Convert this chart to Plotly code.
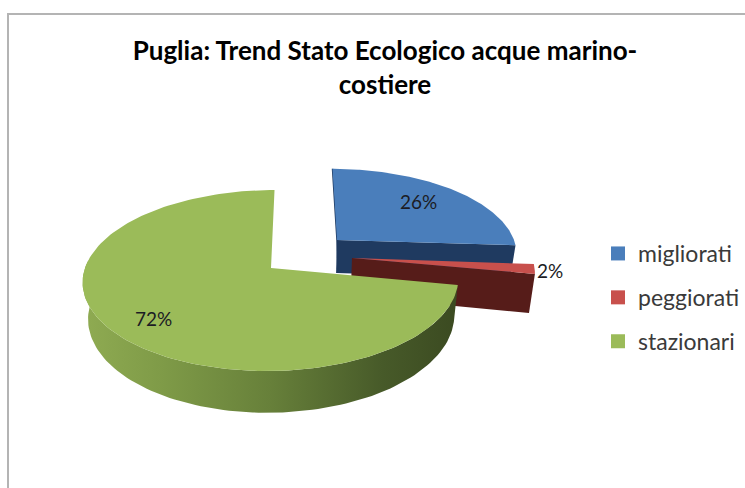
import numpy as np
import plotly.graph_objects as go

categories = ["migliorati", "peggiorati", "stazionari"]
shares = [26, 2, 72]
top_colors = ["#4a7ebb", "#c8504c", "#9bbb59"]
wall_colors = ["#1f3a60", "#561c19", "#5f7a33"]
title_text = "Puglia: Trend Stato Ecologico acque marino-<br>costiere"

# Projection of each exploded slice: apex, radii, rim depth (canvas units)
apex_x = [337, 352, 271]
apex_y = [240, 258, 268]
radius_x = [177, 180, 186]
radius_y = [81, 83, 88.8]
depth = [33, 38, 36]
label_x = [418, 550, 153]
label_y = [201, 270, 318]
K = 0.138
VP_X = 300


def project(i, theta):
    s = 1 / (1 + K * np.cos(theta))
    x = VP_X + (apex_x[i] - VP_X + radius_x[i] * np.sin(theta)) * s
    y = apex_y[i] - radius_y[i] * np.cos(theta) * s
    return x, y, s


def lower(i, x, y, s):
    return VP_X + (x - VP_X) * 0.975, y + depth[i] * s


edges = np.cumsum([0] + shares) / sum(shares) * 2 * np.pi
fig = go.Figure()


def poly(x, y, color=None, gradient=None):
    kw = dict(fillgradient=gradient) if gradient else dict(fillcolor=color)
    fig.add_trace(go.Scatter(x=x, y=y, mode="lines", fill="toself", line=dict(width=0),
                             hoverinfo="skip", showlegend=False, **kw))


for i in range(3):
    th = np.linspace(edges[i], edges[i + 1], 160)
    rim_x, rim_y, rim_s = project(i, th)
    ax, ay = float(apex_x[i]), float(apex_y[i])
    if i < 2:
        # front cut face of the slice, running from apex to the slice's closing edge
        ex, ey, es = rim_x[-1], rim_y[-1], rim_s[-1]
        bax, bay = lower(i, ax, ay, 1.0)
        bex, bey = lower(i, ex, ey, es)
        poly([ax, ex, bex, bax, ax], [ay, ey, bey, bay, ay], wall_colors[i])
    if i == 0:
        fig.add_trace(go.Scatter(x=[rim_x[0], ax, ax + 1], y=[rim_y[0], ay, ay + depth[i]],
                                 mode="lines", line=dict(color=wall_colors[i], width=1.5),
                                 hoverinfo="skip", showlegend=False))
    if i == 2:
        # outer rim: only the part that faces the viewer
        front = th < 1.53 * np.pi
        low_x, low_y = lower(i, rim_x[front], rim_y[front], rim_s[front])
        gradient = dict(type="horizontal",
                        colorscale=[[0, "#8fab52"], [0.22, "#7e9a47"], [0.5, "#67803a"],
                                    [0.8, "#475a29"], [1, "#3b4a21"]])
        poly(np.r_[rim_x[front], low_x[::-1], rim_x[0]], np.r_[rim_y[front], low_y[::-1], rim_y[0]],
             gradient=gradient)
    poly(np.r_[ax, rim_x, ax], np.r_[ay, rim_y, ay], top_colors[i])

for name, color in zip(categories, top_colors):
    fig.add_trace(go.Scatter(x=[None], y=[None], mode="markers", name=name, legendgroup=name,
                             marker=dict(symbol="square", size=14, color=color)))

for s, x, y in zip(shares, label_x, label_y):
    fig.add_annotation(x=x, y=y, text=f"{s}%", showarrow=False,
                       font=dict(family="Lato", size=19, color="#1c1c24"))

fig.update_layout(
    width=745, height=488, margin=dict(l=0, r=0, t=0, b=0, autoexpand=False),
    paper_bgcolor="white", plot_bgcolor="white",
    title=dict(text=title_text, x=385 / 745, xanchor="center", y=1 - 60 / 488, yanchor="top",
               font=dict(family="Lato", size=26, color="#000000", weight="bold")),
    xaxis=dict(range=[0, 745], visible=False, fixedrange=True),
    yaxis=dict(range=[488, 0], visible=False, fixedrange=True),
    legend=dict(x=598 / 745, y=1 - 232 / 488, xanchor="left", yanchor="top",
                tracegroupgap=11, traceorder="grouped", itemwidth=30,
                font=dict(family="Lato", size=23, color="#3a3a3a"), bgcolor="rgba(0,0,0,0)"),
    shapes=[dict(type="rect", xref="x", yref="y", x0=8, y0=14, x1=780, y1=520,
                 line=dict(color="#b4b4b4", width=2), layer="below")],
)

fig.write_html("out.html", config=dict(displayModeBar=False),
               post_script="document.body.style.margin='0';")
